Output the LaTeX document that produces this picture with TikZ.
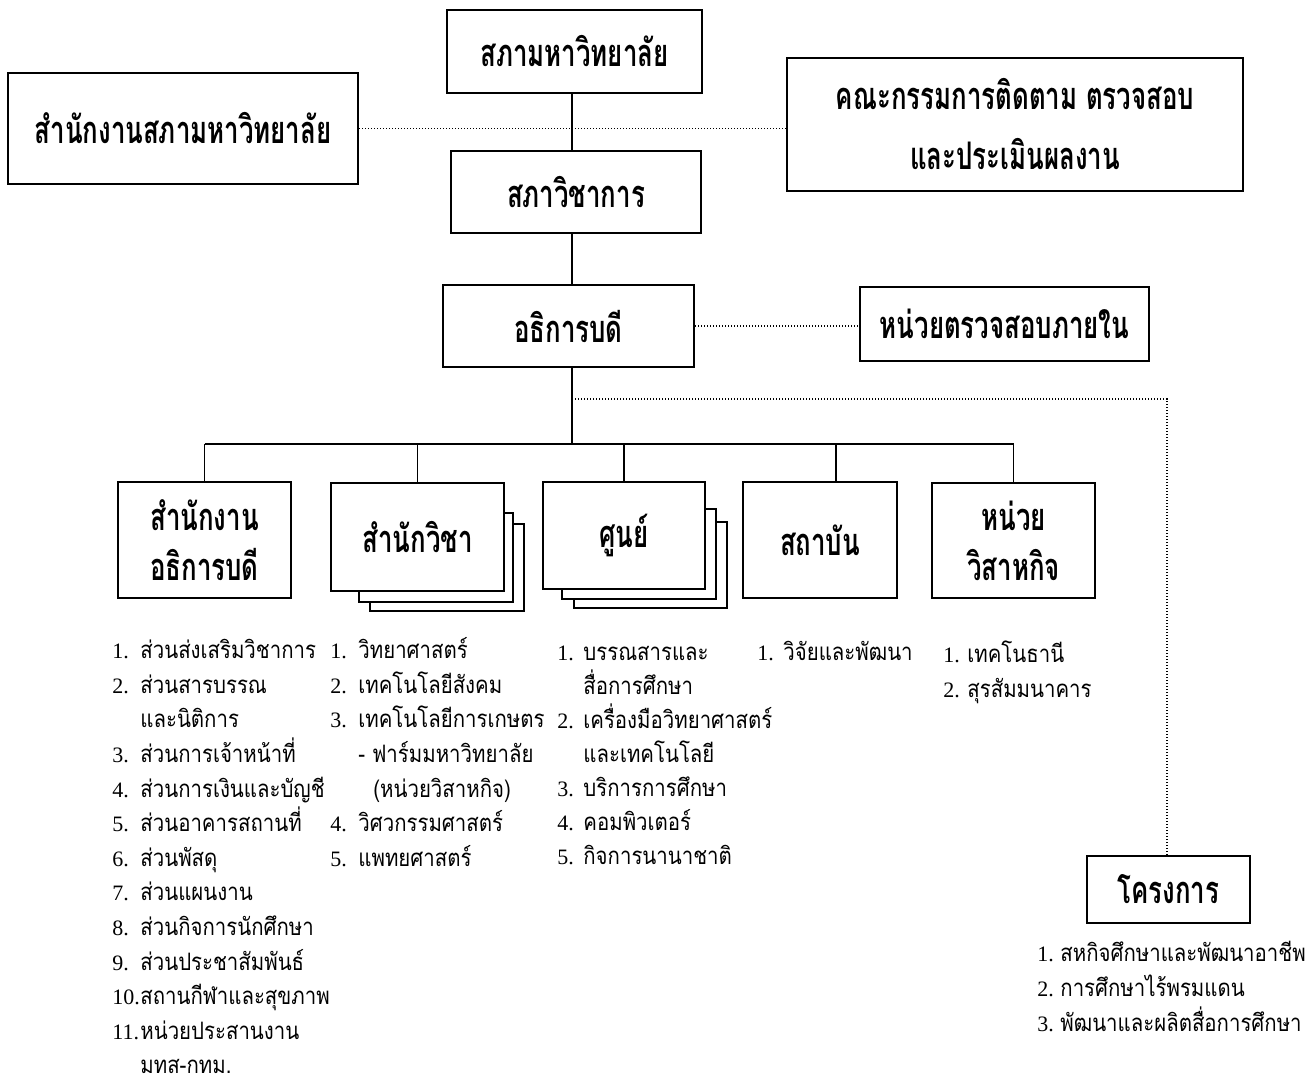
\documentclass[tikz,border=0pt]{standalone}
\usepackage{fontspec}
\setmainfont{Liberation Serif}
\newfontfamily\thaibold[Script=Thai,FakeStretch=0.68]{Loma}
\newfontfamily\thailist[Script=Thai,FakeStretch=0.85]{Loma}
\newfontfamily\numfont{Liberation Serif}
\def\nw{14pt}
\newcommand{\itm}[2]{\makebox[\nw][l]{\numfont\fontsize{11}{12}\selectfont #1}#2}
\newcommand{\cont}[1]{\hspace*{\nw}#1}

\begin{document}
\begin{tikzpicture}[x=0.5pt,y=-0.5pt,
    org/.style={draw,line width=1pt,fill=white,inner sep=0pt,align=center,
      font=\thaibold\bfseries\fontsize{19}{30}\selectfont},
    conn/.style={line width=0.8pt},
    dotline/.style={line width=0.6pt,dash pattern=on 0.6pt off 0.9pt},
    lst/.style={anchor=base west,inner sep=0pt,font=\thailist\fontsize{12}{17.5}\selectfont}]
  \useasboundingbox (0,0) rectangle (1316,1088);
  \coordinate (sp) at (572,0);
  \coordinate (bus) at (0,444);
  \coordinate (pj) at (1167,399);
  % top of the chart
  \node[org,minimum width=127.5pt,minimum height=41.5pt] (council) at (574.5,51.5) {สภามหาวิทยาลัย};
  \node[org,minimum width=175pt,minimum height=55.5pt] (office) at (183,128.5) {สำนักงานสภามหาวิทยาลัย};
  \node[org,minimum width=228pt,minimum height=66.5pt] (audit) at (1015,124.5) {คณะกรรมการติดตาม ตรวจสอบ\\และประเมินผลงาน};
  \node[org,minimum width=125pt,minimum height=41pt] (acad) at (576,192) {สภาวิชาการ};
  \node[org,minimum width=125.5pt,minimum height=41pt] (rector) at (568.5,326) {อธิการบดี};
  \node[org,minimum width=144.5pt,minimum height=37pt] (internal) at (1004.5,324) {หน่วยตรวจสอบภายใน};
  \node[org,minimum width=81.5pt,minimum height=33.5pt] (project) at (1168.5,889.5) {โครงการ};
  % stacked sheets
  \draw[line width=1pt,fill=white] (370,524) rectangle (524,611);
  \draw[line width=1pt,fill=white] (359,513) rectangle (513,602);
  \draw[line width=1pt,fill=white] (574,522) rectangle (727,608);
  \draw[line width=1pt,fill=white] (562,509) rectangle (716,599);
  % units
  \node[org,font=\thaibold\bfseries\fontsize{19}{25}\selectfont,minimum width=86.5pt,minimum height=58pt] (rectoff) at (204.5,540) {สำนักงาน\\อธิการบดี};
  \node[org,minimum width=86.5pt,minimum height=54pt] (school) at (417.5,537) {สำนักวิชา};
  \node[org,minimum width=81pt,minimum height=53.5pt] (center) at (624,535.5) {ศูนย์};
  \node[org,minimum width=77pt,minimum height=58pt] (inst) at (820,540) {สถาบัน};
  \node[org,font=\thaibold\bfseries\fontsize{19}{25}\selectfont,minimum width=81.5pt,minimum height=57.5pt] (enter) at (1013.5,540.5) {หน่วย\\วิสาหกิจ};
  % connectors
  \draw[conn] (sp |- council.south) -- (sp |- acad.north);
  \draw[conn] (sp |- acad.south) -- (sp |- rector.north);
  \draw[conn] (sp |- rector.south) -- (sp |- bus);
  \draw[dotline] (office.east) -- (office.east -| audit.west);
  \draw[dotline] (rector.east) -- (rector.east -| internal.west);
  \draw[dotline] (sp |- pj) -- (pj) -- (pj |- project.north);
  \draw[conn] (rectoff.north |- bus) -- (enter.north |- bus);
  \draw[conn] (rectoff.north) -- (rectoff.north |- bus);
  \draw[conn] (school.north) -- (school.north |- bus);
  \draw[conn] (center.north) -- (center.north |- bus);
  \draw[conn] ([xshift=8pt]inst.north) -- ([xshift=8pt]inst.north |- bus);
  \draw[conn] (enter.north) -- (enter.north |- bus);
  % lists
  \def\nw{14pt}
  \foreach \t [count=\i] in {{\itm{1.}{ส่วนส่งเสริมวิชาการ}},{\itm{2.}{ส่วนสารบรรณ}},{\cont{และนิติการ}},
      {\itm{3.}{ส่วนการเจ้าหน้าที่}},{\itm{4.}{ส่วนการเงินและบัญชี}},{\itm{5.}{ส่วนอาคารสถานที่}},
      {\itm{6.}{ส่วนพัสดุ}},{\itm{7.}{ส่วนแผนงาน}},{\itm{8.}{ส่วนกิจการนักศึกษา}},
      {\itm{9.}{ส่วนประชาสัมพันธ์}},{\itm{10.}{สถานกีฬาและสุขภาพ}},{\itm{11.}{หน่วยประสานงาน}},{\cont{มทส-กทม.}}}
    \node[lst] (la\i) at (112,624+34.6*\i) {\t};
  \foreach \t [count=\i] in {{\itm{1.}{วิทยาศาสตร์}},{\itm{2.}{เทคโนโลยีสังคม}},{\itm{3.}{เทคโนโลยีการเกษตร}},
      {\cont{- ฟาร์มมหาวิทยาลัย}},{\cont{\hspace*{7.5pt}(หน่วยวิสาหกิจ)}},{\itm{4.}{วิศวกรรมศาสตร์}},{\itm{5.}{แพทยศาสตร์}}}
    \node[lst] (lb\i) at (330,624+34.6*\i) {\t};
  \def\nw{13pt}
  \foreach \t [count=\i] in {{\itm{1.}{บรรณสารและ}},{\cont{สื่อการศึกษา}},{\itm{2.}{เครื่องมือวิทยาศาสตร์}},
      {\cont{และเทคโนโลยี}},{\itm{3.}{บริการการศึกษา}},{\itm{4.}{คอมพิวเตอร์}},{\itm{5.}{กิจการนานาชาติ}}}
    \node[lst] (lc\i) at (557,626+34*\i) {\t};
  \node[lst] (ld1) at (757,660) {\itm{1.}{วิจัยและพัฒนา}};
  \def\nw{12pt}
  \node[lst] (le1) at (943,662) {\itm{1.}{เทคโนธานี}};
  \node[lst] (le2) at (943,697) {\itm{2.}{สุรสัมมนาคาร}};
  \def\nw{11.5pt}
  \foreach \t [count=\i] in {{\itm{1.}{สหกิจศึกษาและพัฒนาอาชีพ}},{\itm{2.}{การศึกษาไร้พรมแดน}},{\itm{3.}{พัฒนาและผลิตสื่อการศึกษา}}}
    \node[lst] (lf\i) at (1037,926+35*\i) {\t};
\end{tikzpicture}
\end{document}
